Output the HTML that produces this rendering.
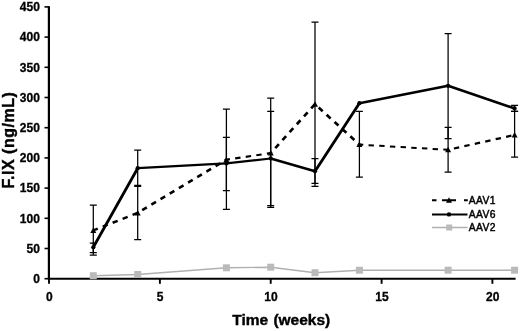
<!DOCTYPE html>
<html><head><meta charset="utf-8"><title>F.IX chart</title>
<style>
html,body{margin:0;padding:0;background:#fff;}
body{width:520px;height:331px;overflow:hidden;}
svg{display:block;}
text{font-family:"Liberation Sans",Arial,sans-serif;fill:#000;}
.tk{font-weight:bold;font-size:12px;stroke:#000;stroke-width:0.3px;}
.ax{font-weight:bold;font-size:15.5px;stroke:#000;stroke-width:0.4px;}
.lg{font-size:10.3px;letter-spacing:0.4px;stroke:#000;stroke-width:0.45px;}
</style></head><body>
<svg width="520" height="331" viewBox="0 0 520 331">
<defs><filter id="soft" x="0" y="0" width="520" height="331" filterUnits="userSpaceOnUse"><feGaussianBlur stdDeviation="0.35"/></filter></defs>
<rect width="520" height="331" fill="#fff"/>
<g filter="url(#soft)">

<line x1="48.9" y1="6.2" x2="48.9" y2="279.7" stroke="#000" stroke-width="2.2"/>
<line x1="48.0" y1="278.8" x2="515.6" y2="278.8" stroke="#000" stroke-width="2.1"/>
<line x1="44.5" y1="278.7" x2="49.0" y2="278.7" stroke="#000" stroke-width="1.6"/>
<text class="tk" x="39.9" y="282.9" text-anchor="end">0</text>
<line x1="44.5" y1="248.5" x2="49.0" y2="248.5" stroke="#000" stroke-width="1.6"/>
<text class="tk" x="39.9" y="252.7" text-anchor="end">50</text>
<line x1="44.5" y1="218.3" x2="49.0" y2="218.3" stroke="#000" stroke-width="1.6"/>
<text class="tk" x="39.9" y="222.5" text-anchor="end">100</text>
<line x1="44.5" y1="188.1" x2="49.0" y2="188.1" stroke="#000" stroke-width="1.6"/>
<text class="tk" x="39.9" y="192.3" text-anchor="end">150</text>
<line x1="44.5" y1="157.9" x2="49.0" y2="157.9" stroke="#000" stroke-width="1.6"/>
<text class="tk" x="39.9" y="162.1" text-anchor="end">200</text>
<line x1="44.5" y1="127.7" x2="49.0" y2="127.7" stroke="#000" stroke-width="1.6"/>
<text class="tk" x="39.9" y="131.9" text-anchor="end">250</text>
<line x1="44.5" y1="97.5" x2="49.0" y2="97.5" stroke="#000" stroke-width="1.6"/>
<text class="tk" x="39.9" y="101.7" text-anchor="end">300</text>
<line x1="44.5" y1="67.3" x2="49.0" y2="67.3" stroke="#000" stroke-width="1.6"/>
<text class="tk" x="39.9" y="71.5" text-anchor="end">350</text>
<line x1="44.5" y1="37.1" x2="49.0" y2="37.1" stroke="#000" stroke-width="1.6"/>
<text class="tk" x="39.9" y="41.3" text-anchor="end">400</text>
<line x1="44.5" y1="6.9" x2="49.0" y2="6.9" stroke="#000" stroke-width="1.6"/>
<text class="tk" x="39.9" y="11.1" text-anchor="end">450</text>
<line x1="49.0" y1="278.7" x2="49.0" y2="283.8" stroke="#000" stroke-width="1.9"/>
<text class="tk" x="49.3" y="300.6" text-anchor="middle">0</text>
<line x1="159.9" y1="278.7" x2="159.9" y2="283.8" stroke="#000" stroke-width="1.9"/>
<text class="tk" x="160.2" y="300.6" text-anchor="middle">5</text>
<line x1="270.7" y1="278.7" x2="270.7" y2="283.8" stroke="#000" stroke-width="1.9"/>
<text class="tk" x="271.0" y="300.6" text-anchor="middle">10</text>
<line x1="381.6" y1="278.7" x2="381.6" y2="283.8" stroke="#000" stroke-width="1.9"/>
<text class="tk" x="381.9" y="300.6" text-anchor="middle">15</text>
<line x1="492.4" y1="278.7" x2="492.4" y2="283.8" stroke="#000" stroke-width="1.9"/>
<text class="tk" x="492.7" y="300.6" text-anchor="middle">20</text>
<polyline points="93.3,275.7 137.7,274.5 226.4,267.8 270.7,267.2 315.0,272.7 359.4,270.2 448.1,270.2 514.6,270.2" fill="none" stroke="#b0b0b0" stroke-width="1.4"/>
<rect x="89.8" y="272.2" width="7" height="7" fill="#bababa"/>
<rect x="134.2" y="271.0" width="7" height="7" fill="#bababa"/>
<rect x="222.9" y="264.3" width="7" height="7" fill="#bababa"/>
<rect x="267.2" y="263.7" width="7" height="7" fill="#bababa"/>
<rect x="311.5" y="269.2" width="7" height="7" fill="#bababa"/>
<rect x="355.9" y="266.7" width="7" height="7" fill="#bababa"/>
<rect x="444.6" y="266.7" width="7" height="7" fill="#bababa"/>
<rect x="511.1" y="266.7" width="7" height="7" fill="#bababa"/>
<path d="M93.3 205.0V255.1M89.8 205.0H96.8M89.8 255.1H96.8" stroke="#000" stroke-width="1.25" fill="none"/>
<path d="M137.7 185.4V239.7M134.2 185.4H141.2M134.2 239.7H141.2" stroke="#000" stroke-width="1.25" fill="none"/>
<path d="M226.4 109.0V209.3M222.9 109.0H229.9M222.9 209.3H229.9" stroke="#000" stroke-width="1.25" fill="none"/>
<path d="M270.7 98.1V207.4M267.2 98.1H274.2M267.2 207.4H274.2" stroke="#000" stroke-width="1.25" fill="none"/>
<path d="M315.0 22.0V186.3M311.5 22.0H318.5M311.5 186.3H318.5" stroke="#000" stroke-width="1.25" fill="none"/>
<path d="M359.4 111.4V177.2M355.9 111.4H362.9M355.9 177.2H362.9" stroke="#000" stroke-width="1.25" fill="none"/>
<path d="M448.1 127.3V172.0M444.6 127.3H451.6M444.6 172.0H451.6" stroke="#000" stroke-width="1.25" fill="none"/>
<path d="M514.6 111.4V157.0M511.1 111.4H518.1M511.1 157.0H518.1" stroke="#000" stroke-width="1.25" fill="none"/>
<path d="M93.3 243.1V252.7M89.8 243.1H96.8M89.8 252.7H96.8" stroke="#000" stroke-width="1.25" fill="none"/>
<path d="M137.7 150.1V186.3M134.2 150.1H141.2M134.2 186.3H141.2" stroke="#000" stroke-width="1.25" fill="none"/>
<path d="M226.4 137.4V190.5M222.9 137.4H229.9M222.9 190.5H229.9" stroke="#000" stroke-width="1.25" fill="none"/>
<path d="M270.7 111.4V205.6M267.2 111.4H274.2M267.2 205.6H274.2" stroke="#000" stroke-width="1.25" fill="none"/>
<path d="M315.0 158.5V183.3M311.5 158.5H318.5M311.5 183.3H318.5" stroke="#000" stroke-width="1.25" fill="none"/>
<path d="M448.1 33.5V138.6M444.6 33.5H451.6M444.6 138.6H451.6" stroke="#000" stroke-width="1.25" fill="none"/>
<path d="M514.6 105.4V111.4M511.1 105.4H518.1M511.1 111.4H518.1" stroke="#000" stroke-width="1.25" fill="none"/>
<line x1="93.3" y1="230.4" x2="137.7" y2="212.9" stroke="#000" stroke-width="2.47" stroke-linecap="butt" stroke-dasharray="5.4 5.3" stroke-dashoffset="0.60"/>
<line x1="137.7" y1="212.9" x2="226.4" y2="159.7" stroke="#000" stroke-width="2.61" stroke-linecap="butt" stroke-dasharray="5.4 5.3" stroke-dashoffset="5.47"/>
<line x1="226.4" y1="159.7" x2="270.7" y2="153.1" stroke="#000" stroke-width="2.16" stroke-linecap="butt" stroke-dasharray="5.4 5.3" stroke-dashoffset="1.86"/>
<line x1="270.7" y1="153.1" x2="315.0" y2="104.2" stroke="#000" stroke-width="2.68" stroke-linecap="butt" stroke-dasharray="5.4 5.3" stroke-dashoffset="3.89"/>
<line x1="315.0" y1="104.2" x2="359.4" y2="144.6" stroke="#000" stroke-width="2.68" stroke-linecap="butt" stroke-dasharray="5.4 5.3" stroke-dashoffset="5.71"/>
<line x1="359.4" y1="144.6" x2="448.1" y2="149.8" stroke="#000" stroke-width="2.01" stroke-linecap="butt" stroke-dasharray="5.4 5.3" stroke-dashoffset="1.54"/>
<line x1="448.1" y1="149.8" x2="514.6" y2="135.0" stroke="#000" stroke-width="2.27" stroke-linecap="butt" stroke-dasharray="5.4 5.3" stroke-dashoffset="4.77"/>
<path d="M93.3 227.4L96.3 232.9H90.3Z" fill="#000"/>
<path d="M137.7 209.9L140.7 215.4H134.7Z" fill="#000"/>
<path d="M226.4 156.7L229.4 162.2H223.4Z" fill="#000"/>
<path d="M270.7 150.1L273.7 155.6H267.7Z" fill="#000"/>
<path d="M315.0 101.2L318.0 106.7H312.0Z" fill="#000"/>
<path d="M359.4 141.6L362.4 147.1H356.4Z" fill="#000"/>
<path d="M448.1 146.8L451.1 152.3H445.1Z" fill="#000"/>
<path d="M514.6 132.0L517.6 137.5H511.6Z" fill="#000"/>
<line x1="93.3" y1="247.3" x2="137.7" y2="168.2" stroke="#000" stroke-width="2.79" stroke-linecap="round"/>
<line x1="137.7" y1="168.2" x2="226.4" y2="163.4" stroke="#000" stroke-width="2.16" stroke-linecap="round"/>
<line x1="226.4" y1="163.4" x2="270.7" y2="158.5" stroke="#000" stroke-width="2.26" stroke-linecap="round"/>
<line x1="270.7" y1="158.5" x2="315.0" y2="171.2" stroke="#000" stroke-width="2.53" stroke-linecap="round"/>
<line x1="315.0" y1="171.2" x2="359.4" y2="103.2" stroke="#000" stroke-width="2.84" stroke-linecap="round"/>
<line x1="359.4" y1="103.2" x2="448.1" y2="85.8" stroke="#000" stroke-width="2.41" stroke-linecap="round"/>
<line x1="448.1" y1="85.8" x2="514.6" y2="108.4" stroke="#000" stroke-width="2.60" stroke-linecap="round"/>
<circle cx="93.3" cy="247.3" r="2.15" fill="#000"/>
<circle cx="137.7" cy="168.2" r="2.15" fill="#000"/>
<circle cx="226.4" cy="163.4" r="2.15" fill="#000"/>
<circle cx="270.7" cy="158.5" r="2.15" fill="#000"/>
<circle cx="315.0" cy="171.2" r="2.15" fill="#000"/>
<circle cx="359.4" cy="103.2" r="2.15" fill="#000"/>
<circle cx="448.1" cy="85.8" r="2.15" fill="#000"/>
<circle cx="514.6" cy="108.4" r="2.15" fill="#000"/>
<path d="M432 200.2H436.5M442 200.2H456M464 200.2H467.8" stroke="#000" stroke-width="2" fill="none"/>
<path d="M449 197.2L452 202.7H446Z" fill="#000"/>
<text class="lg" x="468.7" y="203.8">AAV1</text>
<line x1="432" y1="214.4" x2="467.5" y2="214.4" stroke="#000" stroke-width="2"/>
<circle cx="449" cy="214.4" r="2.2" fill="#000"/>
<text class="lg" x="468.7" y="217.9">AAV6</text>
<line x1="432" y1="227.5" x2="467.5" y2="227.5" stroke="#b0b0b0" stroke-width="1.4"/>
<rect x="446.2" y="224.5" width="6" height="6" fill="#bababa"/>
<text class="lg" x="468.7" y="231.4">AAV2</text>
<text class="ax" x="232.3" y="325.4" style="font-size:15.5px;word-spacing:0.9px">Time (weeks)</text>
<text class="ax" transform="translate(13.7 188.4) rotate(-90)" style="font-size:16px" textLength="96.2" lengthAdjust="spacing">F.IX (ng/mL)</text>
</g></svg></body></html>
